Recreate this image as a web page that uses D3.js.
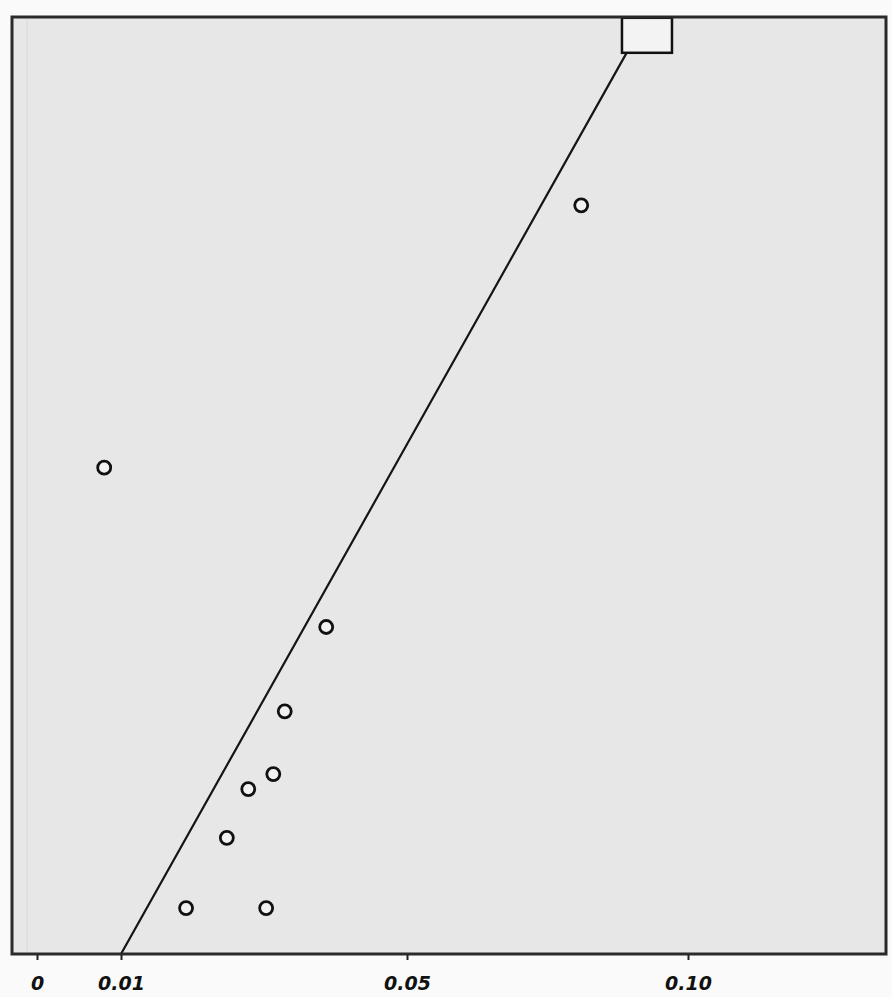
<!DOCTYPE html>
<html>
  <head>
    <meta charset="UTF-8" />
    <script src="https://d3js.org/d3.v7.min.js"></script>
    <style>
      body { margin: 0; background: #fafafa; }
      svg { display: block; }
    </style>
  </head>
  <body>
    <div id="chart"></div>
    <script>
      // tick values on the x axis (axis is stretched between ticks)
      var xTicks = [0, 0.01, 0.05, 0.10];
      var xTickLabels = ["0", "0.01", "0.05", "0.10"];

      // observed studies
      var pointX = [0.081, 0.008, 0.0387, 0.0329, 0.0313, 0.0278, 0.0248, 0.0191, 0.0303];
      var pointY = [79.9, 51.9, 34.9, 25.9, 19.2, 17.6, 12.4, 4.9, 4.9];

      // reference line
      var lineX = [0.01, 0.05, 0.0891];
      var lineY = [0, 54.4, 96.2];

      // pooled estimate box
      var boxX = [0.0927];
      var boxY = [98.1];

      var width = 892;
      var height = 997;
      var plot = { left: 12, right: 886, top: 17, bottom: 954 };

      var xScale = d3.scaleLinear()
        .domain(xTicks)
        .range([37, 121, 407, 688]);

      var yScale = d3.scaleLinear()
        .domain([0, 100])
        .range([plot.bottom, plot.top]);

      var svg = d3.select("#chart").append("svg")
        .attr("width", width)
        .attr("height", height);

      /* plot background */
      svg.append("rect")
        .attr("x", plot.left)
        .attr("y", plot.top)
        .attr("width", plot.right - plot.left)
        .attr("height", plot.bottom - plot.top)
        .attr("fill", "#e7e7e7");

      // faint inner axis line
      svg.append("line")
        .attr("x1", 27).attr("x2", 27)
        .attr("y1", plot.top).attr("y2", plot.bottom)
        .attr("stroke", "#d9d9d9")
        .attr("stroke-width", 1);

      /* line */
      var lineData = lineX.map((x, i) => ({ x: x, y: lineY[i] }));
      var line = d3.line()
        .x(d => xScale(d.x))
        .y(d => yScale(d.y));

      svg.append("path")
        .attr("d", line(lineData))
        .attr("fill", "none")
        .attr("stroke", "#151515")
        .attr("stroke-width", 2.2);

      /* points */
      var points = pointX.map((x, i) => ({ x: x, y: pointY[i] }));
      svg.append("g")
        .selectAll("circle")
        .data(points).enter()
        .append("circle")
        .attr("cx", d => xScale(d.x))
        .attr("cy", d => yScale(d.y))
        .attr("r", 6.5)
        .attr("fill", "#f2f2f2")
        .attr("stroke", "#111")
        .attr("stroke-width", 2.8);

      /* box */
      svg.append("g")
        .selectAll("rect")
        .data(boxX.map((x, i) => ({ x: x, y: boxY[i] }))).enter()
        .append("rect")
        .attr("x", d => xScale(d.x) - 25)
        .attr("y", d => yScale(d.y) - 17)
        .attr("width", 50)
        .attr("height", 35)
        .attr("fill", "#f3f3f3")
        .attr("stroke", "#111")
        .attr("stroke-width", 2.5);

      /* frame */
      svg.append("rect")
        .attr("x", plot.left)
        .attr("y", plot.top)
        .attr("width", plot.right - plot.left)
        .attr("height", plot.bottom - plot.top)
        .attr("fill", "none")
        .attr("stroke", "#2a2a2a")
        .attr("stroke-width", 3);

      /* x axis */
      var xAxis = d3.axisBottom(xScale)
        .tickValues(xTicks)
        .tickSize(5)
        .tickPadding(17)
        .tickFormat((d, i) => xTickLabels[i]);

      var gx = svg.append("g")
        .attr("transform", `translate(0, ${plot.bottom + 1})`)
        .call(xAxis);
      gx.select(".domain").remove();
      gx.selectAll(".tick line").attr("stroke", "#222").attr("stroke-width", 2);
      gx.selectAll(".tick text")
        .style("font-family", "'DejaVu Sans', sans-serif")
        .style("font-size", "19px")
        .style("font-weight", "bold")
        .style("font-style", "italic")
        .attr("fill", "#111");
    </script>
  </body>
</html>
